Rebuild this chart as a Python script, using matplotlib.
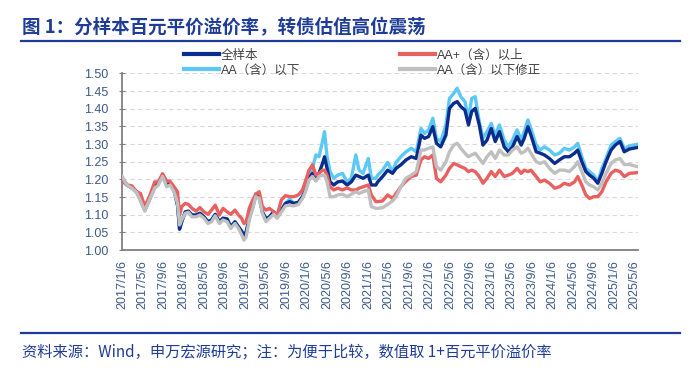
import matplotlib
matplotlib.use("Agg")
import matplotlib.pyplot as plt
import matplotlib.dates as mdates
from matplotlib.lines import Line2D
import pandas as pd

plt.rcParams['font.family'] = ['Liberation Sans', 'Noto Sans CJK SC', 'DejaVu Sans']

title = "图 1：分样本百元平价溢价率，转债估值高位震荡"
source = "资料来源：Wind，申万宏源研究；注：为便于比较，数值取 1+百元平价溢价率"
series_names = ["全样本", "AA+（含）以上", "AA（含）以下", "AA（含）以下修正"]

dates = [
    "2017-01-06", "2017-02-02", "2017-03-03", "2017-04-01", "2017-04-24", "2017-05-20",
    "2017-06-20", "2017-07-18", "2017-08-08", "2017-09-02", "2017-09-27", "2017-10-16",
    "2017-11-09", "2017-11-30", "2017-12-12", "2017-12-25", "2018-01-15", "2018-02-03",
    "2018-02-24", "2018-03-20", "2018-04-12", "2018-05-06", "2018-05-30", "2018-06-20",
    "2018-07-12", "2018-08-06", "2018-08-27", "2018-09-21", "2018-10-12", "2018-11-06",
    "2018-11-27", "2018-12-15", "2018-12-30", "2019-01-12", "2019-01-30", "2019-02-20",
    "2019-03-10", "2019-03-30", "2019-04-18", "2019-05-09", "2019-05-30", "2019-06-24",
    "2019-07-15", "2019-08-09", "2019-09-02", "2019-09-27", "2019-10-21", "2019-11-18",
    "2019-12-12", "2019-12-30", "2020-01-20", "2020-02-09", "2020-03-01", "2020-03-19",
    "2020-04-09", "2020-04-21", "2020-05-06", "2020-05-24", "2020-06-15", "2020-07-09",
    "2020-08-06", "2020-09-02", "2020-09-27", "2020-10-24", "2020-11-12", "2020-12-06",
    "2021-01-06", "2021-01-24", "2021-02-20", "2021-03-03", "2021-04-01", "2021-05-01",
    "2021-05-30", "2021-06-20", "2021-07-18", "2021-08-18", "2021-09-18", "2021-10-18",
    "2021-11-15", "2021-12-06", "2021-12-30", "2022-01-24", "2022-02-15", "2022-03-12",
    "2022-04-12", "2022-05-03", "2022-05-28", "2022-06-18", "2022-07-09", "2022-08-03",
    "2022-08-24", "2022-09-12", "2022-10-03", "2022-10-27", "2022-11-18", "2022-12-12",
    "2023-01-06", "2023-01-30", "2023-02-24", "2023-03-24", "2023-04-18", "2023-05-12",
    "2023-06-09", "2023-07-03", "2023-07-21", "2023-08-12", "2023-08-30", "2023-09-30",
    "2023-10-24", "2023-11-18", "2023-12-18", "2024-01-18", "2024-02-15", "2024-03-15",
    "2024-04-15", "2024-05-15", "2024-06-03", "2024-06-27", "2024-07-21", "2024-08-12",
    "2024-09-06", "2024-09-30", "2024-10-24", "2024-11-18", "2024-12-18", "2025-01-12",
    "2025-02-09", "2025-03-06", "2025-04-06", "2025-05-22",
]

full_sample = [
    1.203, 1.184, 1.176, 1.165, 1.142, 1.113, 1.148, 1.179, 1.189, 1.212, 1.184, 1.189,
    1.170, 1.127, 1.059, 1.080, 1.108, 1.110, 1.099, 1.099, 1.104, 1.094, 1.080, 1.085,
    1.101, 1.080, 1.090, 1.088, 1.066, 1.080, 1.066, 1.054, 1.042, 1.052, 1.090, 1.123,
    1.156, 1.151, 1.108, 1.088, 1.094, 1.108, 1.094, 1.113, 1.132, 1.137, 1.132, 1.135,
    1.151, 1.170, 1.203, 1.217, 1.208, 1.217, 1.245, 1.264, 1.231, 1.193, 1.184, 1.193,
    1.195, 1.184, 1.193, 1.212, 1.208, 1.203, 1.212, 1.184, 1.184, 1.193, 1.208, 1.226,
    1.217, 1.231, 1.241, 1.255, 1.264, 1.259, 1.325, 1.316, 1.321, 1.349, 1.302, 1.292,
    1.325, 1.401, 1.415, 1.420, 1.406, 1.396, 1.354, 1.392, 1.401, 1.354, 1.297, 1.311,
    1.344, 1.307, 1.335, 1.292, 1.278, 1.292, 1.321, 1.297, 1.316, 1.349, 1.325, 1.278,
    1.274, 1.269, 1.259, 1.245, 1.255, 1.264, 1.264, 1.274, 1.283, 1.250, 1.222, 1.212,
    1.203, 1.189, 1.217, 1.250, 1.283, 1.297, 1.307, 1.278, 1.286, 1.290,
]

aa_plus_above = [
    1.195, 1.184, 1.182, 1.165, 1.160, 1.123, 1.156, 1.193, 1.192, 1.216, 1.195, 1.195,
    1.179, 1.165, 1.099, 1.123, 1.132, 1.129, 1.118, 1.110, 1.120, 1.108, 1.101, 1.113,
    1.127, 1.099, 1.118, 1.108, 1.101, 1.113, 1.099, 1.090, 1.075, 1.080, 1.118, 1.142,
    1.158, 1.165, 1.123, 1.113, 1.118, 1.108, 1.099, 1.142, 1.154, 1.151, 1.151, 1.156,
    1.170, 1.195, 1.226, 1.241, 1.212, 1.217, 1.226, 1.226, 1.212, 1.179, 1.170, 1.175,
    1.170, 1.176, 1.170, 1.170, 1.175, 1.179, 1.184, 1.156, 1.137, 1.137, 1.139, 1.156,
    1.146, 1.160, 1.179, 1.195, 1.208, 1.212, 1.255, 1.264, 1.259, 1.269, 1.203, 1.193,
    1.212, 1.231, 1.245, 1.241, 1.236, 1.231, 1.222, 1.226, 1.222, 1.208, 1.189, 1.203,
    1.222, 1.208, 1.226, 1.208, 1.212, 1.217, 1.231, 1.217, 1.226, 1.222, 1.226, 1.208,
    1.193, 1.198, 1.189, 1.175, 1.179, 1.189, 1.184, 1.193, 1.208, 1.184, 1.156, 1.146,
    1.151, 1.151, 1.165, 1.193, 1.217, 1.226, 1.222, 1.208, 1.217, 1.219,
]

aa_below = [
    1.203, 1.184, 1.176, 1.165, 1.142, 1.113, 1.148, 1.179, 1.189, 1.212, 1.184, 1.189,
    1.170, 1.127, 1.059, 1.080, 1.108, 1.110, 1.099, 1.099, 1.104, 1.094, 1.080, 1.085,
    1.101, 1.080, 1.090, 1.088, 1.066, 1.080, 1.066, 1.054, 1.042, 1.052, 1.090, 1.123,
    1.160, 1.153, 1.108, 1.088, 1.094, 1.108, 1.094, 1.113, 1.132, 1.144, 1.132, 1.135,
    1.151, 1.170, 1.212, 1.231, 1.269, 1.264, 1.307, 1.335, 1.264, 1.222, 1.203, 1.212,
    1.217, 1.193, 1.203, 1.269, 1.226, 1.217, 1.259, 1.203, 1.203, 1.212, 1.226, 1.248,
    1.222, 1.248, 1.264, 1.278, 1.288, 1.278, 1.344, 1.330, 1.340, 1.373, 1.316, 1.307,
    1.354, 1.429, 1.443, 1.458, 1.434, 1.420, 1.373, 1.429, 1.434, 1.363, 1.316, 1.335,
    1.358, 1.325, 1.354, 1.311, 1.292, 1.311, 1.340, 1.311, 1.335, 1.368, 1.344, 1.297,
    1.283, 1.292, 1.283, 1.269, 1.274, 1.288, 1.283, 1.292, 1.302, 1.264, 1.231, 1.222,
    1.212, 1.193, 1.231, 1.259, 1.297, 1.307, 1.316, 1.286, 1.295, 1.299,
]

aa_below_adj = [
    1.208, 1.184, 1.175, 1.163, 1.139, 1.110, 1.146, 1.175, 1.184, 1.208, 1.179, 1.184,
    1.165, 1.132, 1.071, 1.085, 1.104, 1.107, 1.094, 1.094, 1.099, 1.090, 1.075, 1.080,
    1.097, 1.075, 1.085, 1.080, 1.061, 1.075, 1.061, 1.044, 1.028, 1.038, 1.085, 1.118,
    1.151, 1.146, 1.104, 1.080, 1.090, 1.101, 1.090, 1.108, 1.125, 1.127, 1.125, 1.129,
    1.146, 1.165, 1.198, 1.208, 1.195, 1.208, 1.212, 1.212, 1.193, 1.151, 1.151, 1.156,
    1.158, 1.151, 1.158, 1.165, 1.160, 1.165, 1.170, 1.123, 1.118, 1.118, 1.120, 1.129,
    1.139, 1.151, 1.179, 1.203, 1.212, 1.222, 1.283, 1.283, 1.288, 1.292, 1.236, 1.226,
    1.250, 1.278, 1.297, 1.302, 1.288, 1.274, 1.264, 1.269, 1.274, 1.259, 1.245, 1.264,
    1.278, 1.259, 1.283, 1.269, 1.269, 1.283, 1.292, 1.274, 1.278, 1.288, 1.274, 1.250,
    1.245, 1.250, 1.231, 1.217, 1.226, 1.226, 1.222, 1.236, 1.250, 1.222, 1.193, 1.184,
    1.179, 1.170, 1.189, 1.217, 1.245, 1.255, 1.259, 1.242, 1.242, 1.236,
]

tick_labels = [
    "2017/1/6", "2017/5/6", "2017/9/6", "2018/1/6", "2018/5/6", "2018/9/6", "2019/1/6",
    "2019/5/6", "2019/9/6", "2020/1/6", "2020/5/6", "2020/9/6", "2021/1/6", "2021/5/6",
    "2021/9/6", "2022/1/6", "2022/5/6", "2022/9/6", "2023/1/6", "2023/5/6", "2023/9/6",
    "2024/1/6", "2024/5/6", "2024/9/6", "2025/1/6", "2025/5/6",
]
y_ticks = [1.00, 1.05, 1.10, 1.15, 1.20, 1.25, 1.30, 1.35, 1.40, 1.45, 1.50]

x = pd.to_datetime(dates)
tick_pos = pd.to_datetime([t.replace("/", "-") for t in tick_labels], format="%Y-%m-%d")

navy = "#1F3C96"
fig = plt.figure(figsize=(7.0, 3.8), dpi=100)
ax = fig.add_axes([0.1747, 0.342, 0.7363, 0.465])

l_lb, = ax.plot(x, aa_below, color="#5BC8F5", lw=2.4, zorder=2)
l_full, = ax.plot(x, full_sample, color="#0A2C8C", lw=2.4, zorder=3)
l_red, = ax.plot(x, aa_plus_above, color="#E8605F", lw=2.4, zorder=4)
l_gray, = ax.plot(x, aa_below_adj, color="#BFBFBF", lw=2.4, zorder=5)

ax.set_ylim(1.00, 1.50)
ax.set_xlim(pd.Timestamp("2017-01-06"), pd.Timestamp("2025-05-25"))
ax.set_yticks(y_ticks)
ax.set_yticklabels([f"{v:.2f}" for v in y_ticks])
ax.set_xticks(tick_pos)
ax.set_xticklabels(tick_labels, rotation=90)
ax.yaxis.grid(True, linestyle=(0, (4, 3)), color="#D9D9D9", lw=0.8)
ax.set_axisbelow(True)
for s in ["top", "right"]:
    ax.spines[s].set_visible(False)
for s in ["left", "bottom"]:
    ax.spines[s].set_color("#808080")
    ax.spines[s].set_linewidth(1.3)
ax.tick_params(axis="y", direction="inout", length=4, color="#808080",
               labelsize=9, labelcolor="#3D5A8A", pad=8)
ax.tick_params(axis="x", length=0, labelsize=9, labelcolor="#3D5A8A", pad=7)

handles = [l_full, l_lb, l_red, l_gray]
labels = [series_names[0], series_names[2], series_names[1], series_names[3]]
leg = fig.legend(handles, labels, ncol=2, loc="upper left",
                 bbox_to_anchor=(0.263, 0.870), frameon=False, fontsize=9,
                 handlelength=2.8, handletextpad=0.15, columnspacing=8.0,
                 labelspacing=0.25, borderpad=0, borderaxespad=0)
for t in leg.get_texts():
    t.set_color("#404040")
for h in leg.legend_handles:
    h.set_linewidth(3)

fig.text(0.031, 0.926, title, fontsize=13.3, fontweight="bold", color=navy,
         va="center", ha="left", family=["Noto Sans CJK SC", "DejaVu Sans"])
fig.add_artist(Line2D([0.03, 0.971], [0.893, 0.893], color=navy, lw=1.6,
                      transform=fig.transFigure))
fig.add_artist(Line2D([0.03, 0.971], [0.124, 0.124], color=navy, lw=1.6,
                      transform=fig.transFigure))
fig.text(0.031, 0.073, source, fontsize=11, color=navy, va="center", ha="left",
         family=["Noto Sans CJK SC", "DejaVu Sans"])

fig.savefig("out.png", dpi=100)
